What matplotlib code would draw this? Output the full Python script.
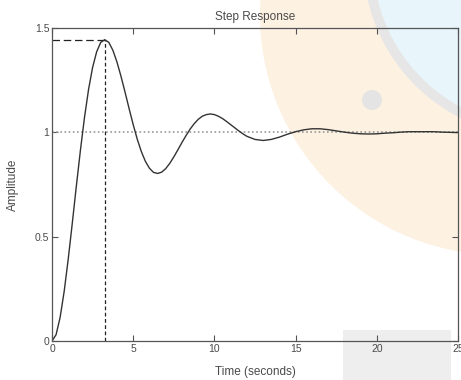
import matplotlib
matplotlib.use("Agg")
from matplotlib import pyplot as plt
from matplotlib.patches import Circle, Rectangle

# Step response samples
time_s = [0.0, 0.25, 0.5, 0.75, 1.0, 1.25, 1.5, 1.75, 2.0, 2.25, 2.5, 2.75,
          3.0, 3.25, 3.5, 3.75, 4.0, 4.25, 4.5, 4.75, 5.0, 5.25, 5.5, 5.75,
          6.0, 6.25, 6.5, 6.75, 7.0, 7.25, 7.5, 7.75, 8.0, 8.25, 8.5, 8.75,
          9.0, 9.25, 9.5, 9.75, 10.0, 10.25, 10.5, 10.75, 11.0, 11.25, 11.5,
          11.75, 12.0, 12.5, 13.0, 13.5, 14.0, 14.5, 15.0, 15.5, 16.0, 16.5,
          17.0, 17.5, 18.0, 18.5, 19.0, 19.5, 20.0, 20.5, 21.0, 21.5, 22.0,
          22.5, 23.0, 23.5, 24.0, 24.5, 25.0]
amplitude = [0.0, 0.030, 0.113, 0.238, 0.393, 0.565, 0.743, 0.914, 1.071,
             1.205, 1.311, 1.386, 1.431, 1.444, 1.431, 1.393, 1.337, 1.268,
             1.192, 1.113, 1.037, 0.967, 0.908, 0.861, 0.828, 0.808, 0.803,
             0.809, 0.826, 0.851, 0.882, 0.916, 0.951, 0.984, 1.015, 1.041,
             1.062, 1.077, 1.085, 1.088, 1.085, 1.077, 1.066, 1.052, 1.037,
             1.022, 1.007, 0.993, 0.981, 0.966, 0.961, 0.966, 0.977, 0.991,
             1.003, 1.012, 1.017, 1.017, 1.013, 1.007, 1.001, 0.996, 0.993,
             0.992, 0.993, 0.996, 0.998, 1.001, 1.003, 1.003, 1.003, 1.003,
             1.001, 1.000, 0.999]
peak_time = 3.25
peak_amp = 1.444
final_value = 1.0

x_ticks = [0, 5, 10, 15, 20, 25]
y_ticks = [0, 0.5, 1, 1.5]
y_tick_labels = ["0", "0.5", "1", "1.5"]

plt.rcParams['font.family'] = ['Liberation Sans', 'DejaVu Sans']
text_color = '#4a4a4a'

fig = plt.figure(figsize=(4.61, 3.8), dpi=100)

# faint watermark shapes behind the chart (positions in inches)
inch = fig.dpi_scale_trans
fig.patches.append(Circle((5.00, 3.65), 2.40, transform=inch,
                          facecolor='#fdf1e2', edgecolor='none', zorder=0))
fig.patches.append(Circle((5.40, 4.20), 1.72, transform=inch,
                          facecolor='#e8f5fb', edgecolor='#e6e6e6', linewidth=7, zorder=0))
fig.patches.append(Circle((3.72, 2.80), 0.10, transform=inch,
                          facecolor='#e4e4e4', edgecolor='none', zorder=0))
fig.patches.append(Rectangle((3.43, 0.0), 1.08, 0.50, transform=inch,
                             facecolor='#eeeeee', edgecolor='none', zorder=0))

axis = fig.add_axes([52 / 461, 39 / 380, 406 / 461, 313 / 380])
axis.set_zorder(2)
axis.patch.set_alpha(0)

# final value line and peak markers
axis.axhline(final_value, color='#9a9a9a', linestyle=(0, (1, 1.5)), linewidth=1.2)
axis.plot([0, peak_time], [peak_amp, peak_amp], color='#222222', linestyle=(0, (6, 3)), linewidth=0.9)
axis.plot([peak_time, peak_time], [0, peak_amp], color='#222222', linestyle=(0, (3, 2)), linewidth=0.9)

axis.plot(time_s, amplitude, color='#333333', linewidth=1.0)

axis.set_xlim(0, 25)
axis.set_ylim(0, 1.5)
axis.set_xticks(x_ticks)
axis.set_yticks(y_ticks)
axis.set_yticklabels(y_tick_labels)
axis.tick_params(direction='in', length=4, width=0.8, top=True, right=True,
                 labelsize=7.5, colors='#555555', labelcolor=text_color, pad=2)
for spine in axis.spines.values():
    spine.set_color('#555555')
    spine.set_linewidth(0.9)

axis.set_title('Step Response', fontsize=8.5, color=text_color, pad=6)
axis.set_xlabel('Time (seconds)', fontsize=8.5, color=text_color, labelpad=9)
axis.set_ylabel('Amplitude', fontsize=8.5, color=text_color, labelpad=11)

plt.savefig('out.png', dpi=100)
